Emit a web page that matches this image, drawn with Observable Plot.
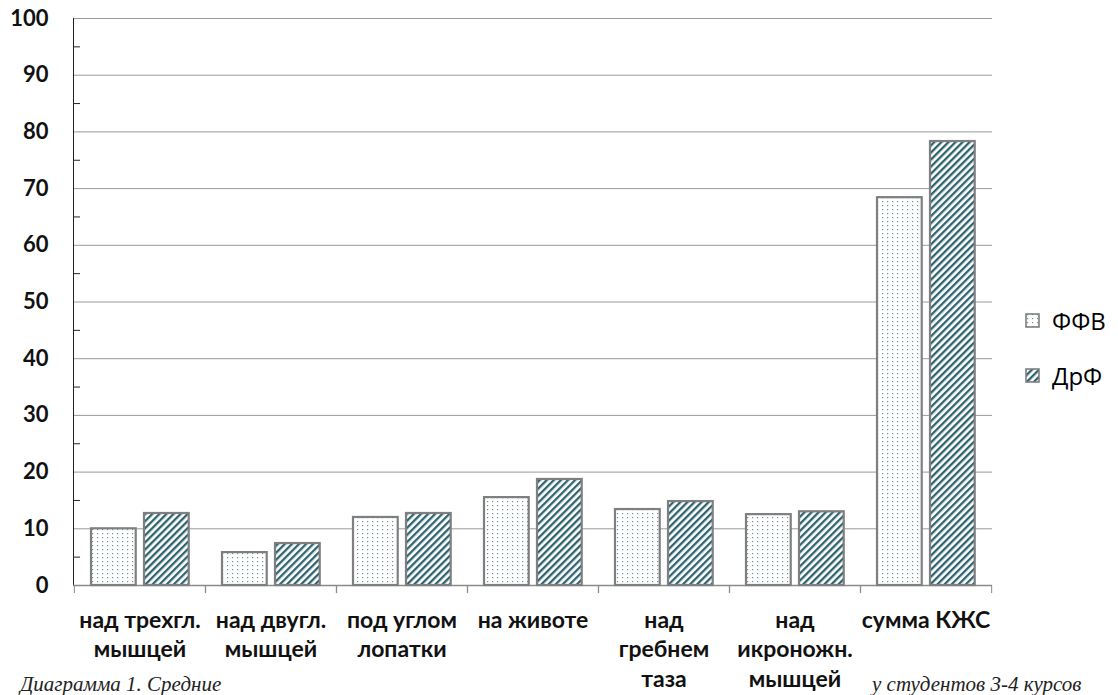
<!DOCTYPE html>
<html>
<head>
<meta charset="utf-8">
<script src="https://cdn.jsdelivr.net/npm/d3@7"></script>
<script src="https://cdn.jsdelivr.net/npm/@observablehq/plot@0.6"></script>
<style>
  html, body { margin: 0; padding: 0; background: #fff; overflow: hidden; }
  #wrap { position: relative; width: 1118px; height: 695px; }
  #chart { position: absolute; left: 0; top: 0; z-index: 2; }
  .cap { position: absolute; top: 673px; z-index: 1; white-space: nowrap; line-height: 22px;
    font-family: "Liberation Serif", "DejaVu Serif", serif; font-style: italic; font-size: 21px; color: #222; }
  #capL { left: 20px; }
  #capR { left: 872px; }
  #legend { position: absolute; left: 1025px; top: 302px; z-index: 3;
    font-family: "Open Sans", "Noto Sans", sans-serif; font-size: 24px; color: #000; }
  .item { display: flex; align-items: center; height: 36px; margin-bottom: 19px; }
  .item svg { margin-right: 12px; }
</style>
</head>
<body>
<div id="wrap">
  <div class="cap" id="capL">Диаграмма 1. Средние</div>
  <div class="cap" id="capR">у студентов 3-4 курсов</div>
  <div id="chart"></div>
  <div id="legend"></div>
</div>
<script>
// ---- data ----
const categories = ["над трехгл. мышцей", "над двугл. мышцей", "под углом лопатки", "на животе", "над гребнем таза", "над икроножн. мышцей", "сумма КЖС"];
const tickLabels = ["над трехгл.\nмышцей", "над двугл.\nмышцей", "под углом\nлопатки", "на животе", "над\nгребнем\nтаза", "над\nикроножн.\nмышцей", "сумма КЖС"];
const series = ["ФФВ", "ДрФ"];
const valuesFFV = [10.0, 5.8, 12.0, 15.5, 13.4, 12.5, 68.4];
const valuesDrF = [12.7, 7.4, 12.7, 18.7, 14.8, 13.0, 78.3];
const yTicks = [0, 10, 20, 30, 40, 50, 60, 70, 80, 90, 100];
const yMinorTicks = [5, 15, 25, 35, 45, 55, 65, 75, 85, 95];

const rows = [];
categories.forEach((c, i) => {
  rows.push({cat: c, series: series[0], value: valuesFFV[i]});
  rows.push({cat: c, series: series[1], value: valuesDrF[i]});
});
const labelOf = new Map(categories.map((c, i) => [c, tickLabels[i]]));

const W = 1118, H = 695, mL = 73, mR = 126, mT = 18, mB = 110;
const bw = (W - mL - mR) / categories.length;
const barW = 45, outer = 17, gap = 8;

const fills = {"ФФВ": "url(#dots)", "ДрФ": "url(#hatch)"};
const font = "Lato, 'Open Sans', sans-serif";

const chart = Plot.plot({
  width: W, height: H,
  marginLeft: mL, marginRight: mR, marginTop: mT, marginBottom: mB,
  style: {fontFamily: font, background: "transparent"},
  x: {domain: categories, padding: 0, label: null},
  y: {domain: [0, 100], label: null},
  marks: [
    Plot.gridY({ticks: yTicks, stroke: "#9a9a9a", strokeOpacity: 1, strokeWidth: 1}),
    Plot.axisY({ticks: yMinorTicks, tickSize: -7, tickFormat: () => "", stroke: "#222"}),
    Plot.axisY({ticks: yTicks, tickSize: 0, tickPadding: 25, fontSize: 22, fontWeight: "bold", fill: "#111"}),
    Plot.frame({anchor: "left", stroke: "#222"}),
    Plot.ruleY([0], {stroke: "#8a8a8a", strokeWidth: 1.3}),
    Plot.axisX({tickSize: 8, tickFormat: () => "", dx: -bw / 2, stroke: "#8a8a8a"}),
    Plot.axisX({tickSize: 8, tickFormat: () => "", dx: bw / 2, stroke: "#8a8a8a"}),
    Plot.axisX({tickSize: 0, tickPadding: 22, tickFormat: d => labelOf.get(d), fontSize: 23,
      fontWeight: "bold", fill: "#111", lineHeight: 1.27}),
    Plot.barY(rows.filter(d => d.series === series[0]), {
      x: "cat", y: "value", fill: fills["ФФВ"], stroke: "#7f7f7f", strokeWidth: 2.2,
      insetLeft: outer, insetRight: bw - outer - barW
    }),
    Plot.barY(rows.filter(d => d.series === series[1]), {
      x: "cat", y: "value", fill: fills["ДрФ"], stroke: "#7f7f7f", strokeWidth: 2.2,
      insetLeft: outer + barW + gap, insetRight: bw - outer - 2 * barW - gap
    })
  ]
});

const defsMarkup = `
<pattern id="dots" patternUnits="userSpaceOnUse" width="5" height="4">
  <rect width="5" height="4" fill="#ffffff"/>
  <rect x="2" y="1" width="1.2" height="1.2" fill="#4f7f8c" fill-opacity="0.85"/>
</pattern>
<pattern id="hatch" patternUnits="userSpaceOnUse" width="5" height="5" patternTransform="rotate(45)">
  <rect width="5" height="5" fill="#ffffff"/>
  <rect x="0" y="0" width="2.3" height="5" fill="#2e6370"/>
</pattern>`;
const defs = document.createElementNS("http://www.w3.org/2000/svg", "defs");
defs.innerHTML = defsMarkup;
chart.insertBefore(defs, chart.firstChild);
document.getElementById("chart").appendChild(chart);

// legend (HTML, to the right of the plot)
const legend = document.getElementById("legend");
series.forEach(s => {
  const item = document.createElement("div");
  item.className = "item";
  item.innerHTML = `<svg width="15" height="15"><defs>${defsMarkup.replace(/id="(\w+)"/g, 'id="lg_$1"')}</defs>
    <rect x="1" y="1" width="13" height="13" fill="${fills[s].replace("#", "#lg_")}" stroke="#7f7f7f" stroke-width="1.6"/></svg><span>${s}</span>`;
  legend.appendChild(item);
});
</script>
</body>
</html>
